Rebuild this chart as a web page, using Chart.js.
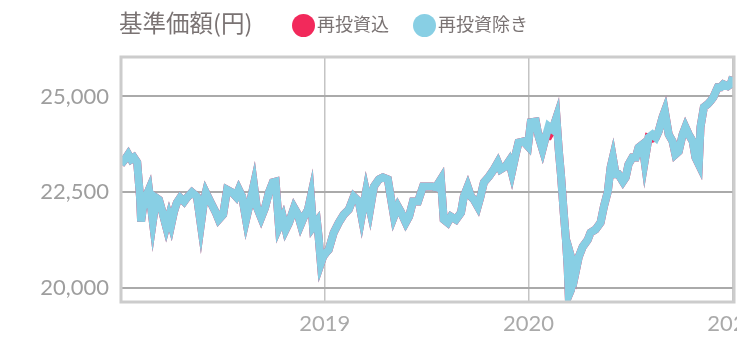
<!DOCTYPE html>
<html>
<head>
<meta charset="utf-8">
<script src="https://cdn.jsdelivr.net/npm/chart.js@4/dist/chart.umd.min.js"></script>
<style>
  body { margin: 0; background: #fff; width: 750px; height: 363px; overflow: hidden; }
  #header { position: absolute; left: 0; top: 0; width: 750px; height: 46px;
    font-family: "Noto Sans CJK JP", "Noto Sans", sans-serif; color: #7a7373; }
  #title { position: absolute; left: 119px; top: 7px; font-size: 23.5px; line-height: 30px; }
  .item { position: absolute; top: 10px; font-size: 18px; line-height: 26px; }
  .dot { display: inline-block; width: 23px; height: 23px; border-radius: 50%;
    vertical-align: -6px; margin-right: 2px; }
  #wrap { position: absolute; left: 0; top: 0; width: 737px; height: 363px; overflow: hidden; }
  #inner { position: relative; width: 750px; height: 363px; }
</style>
</head>
<body>
<div id="wrap"><div id="inner"><canvas id="chart"></canvas></div></div>
<div id="header">
  <span id="title">基準価額(円)</span>
  <span class="item" style="left:292px"><span class="dot" style="background:#f2295b"></span>再投資込</span>
  <span class="item" style="left:413px"><span class="dot" style="background:#88cfe4"></span>再投資除き</span>
</div>
<script>
// days since 2018-01-01
const dayOffsets = [
  0,7,13,18,23,29,34,36,41,50, 57,63,68,73,81,86,90,95,100,106,
  113,118,127,136,143,149,152,161,170,175, 183,190,199,206,211,217,224,231,238,243,
  251,258,265,272,277,283,290,295,301,310, 317,322,328,335,340,344,351,354,358,362,
  367,372,381,390,399,408,417,426,431,439, 446,453,462,469,478,483,489,496,501,510,
  516,523,532,541,550,558,564,573,578,585, 591,600,609,614,621,627,632,639,644,650,
  659,668,675,680,689,695,700,707,712,721, 729,734,743,748,755,761,766,773,780,784,
  788,793,797,800,802,806,809,814,820,827, 836,841,850,859,865,872,877,881,886,891,
  899,904,909,916,922,927,934,938,945,952, 958,963,970,974,981,988,993,999,1006,1011,
  1017,1024,1029,1035,1038,1044,1051,1056,1061,1069, 1074,1079,1087,1092,1096
];

const navExcl = [
  23230,23360,23490,23360,23410,23280,22390,21740,22260,22570,
  21740,22360,22310,22050,21600,21870,21660,22000,22230,22360,
  22260,22360,22500,22390,21660,22310,22500,22230,21970,21790,
  21920,22570,22500,22390,22570,22390,21790,22230,22700,22130,
  21840,22100,22500,22760,22780,21600,21840,21530,21710,22100,
  21920,21660,21870,22050,22390,21600,21740,21340,20650,20820,
  20920,21000,21450,21710,21920,22050,22390,22260,21870,22520,
  22050,22650,22840,22890,22840,22390,21870,22130,22000,21710,
  21870,22260,22260,22650,22650,22650,22630,22840,21790,21710,
  21870,21790,21970,22390,22650,22390,22310,22130,22390,22760,
  22910,23100,23280,23100,23180,23310,23020,23490,23800,23830,
  23700,24330,24350,23960,23620,23960,24220,24140,24450,23620,
  22970,21970,21260,20560,19820,19960,20660,20400,20820,21080,
  21260,21450,21530,21710,22130,22520,23150,23400,22970,22970,
  22780,22890,23230,23410,23410,23670,23750,23310,23930,24010,
  23930,24090,24460,24620,24010,23830,23490,23570,24010,24200,
  24010,23830,23410,23230,24200,24720,24800,24880,24980,25240,
  25240,25320,25270,25320,25510
];

const navIncl = [
  23230,23360,23490,23360,23410,23280,22390,21740,22260,22570,
  21740,22360,22310,22050,21600,21870,21660,22000,22230,22360,
  22260,22360,22500,22390,21660,22310,22500,22230,21970,21790,
  21920,22570,22500,22390,22570,22390,21790,22230,22700,22130,
  21840,22100,22500,22760,22780,21600,21840,21530,21710,22100,
  21920,21660,21870,22050,22390,21600,21740,21340,20650,20820,
  20920,21000,21450,21710,21920,22050,22390,22260,21870,22520,
  22050,22650,22840,22890,22840,22390,21870,22130,22000,21710,
  21870,22260,22260,22650,22650,22650,22630,22840,21790,21710,
  21870,21790,21970,22390,22650,22390,22310,22130,22390,22760,
  22910,23100,23280,23100,23180,23310,23020,23490,23800,23830,
  23700,24330,24350,23960,23620,23960,23960,24140,24450,23620,
  22970,21970,21260,20560,19820,19960,20660,20400,20820,21080,
  21260,21450,21530,21710,22130,22520,23150,23400,22970,22970,
  22780,22890,23230,23410,23410,23670,23750,23310,23930,23900,
  23930,24090,24460,24620,24010,23830,23490,23570,24010,24200,
  24010,23830,23410,23230,24200,24720,24800,24880,24980,25240,
  25240,25320,25270,25320,25510
];

const yearTicks = [365, 730, 1096];
const yearLabels = ['2019', '2020', '2021'];
const yTicks = [20000, 22500, 25000];

const toPoints = (vals) => dayOffsets.map((d, i) => ({ x: d, y: vals[i] }));

const frame = {
  id: 'frame',
  afterDraw(chart) {
    const { ctx, chartArea: a } = chart;
    ctx.save();
    ctx.strokeStyle = '#cccccc';
    ctx.lineWidth = 3;
    ctx.strokeRect(a.left, a.top, a.right - a.left, a.bottom - a.top);
    ctx.restore();
  }
};

new Chart(document.getElementById('chart'), {
  type: 'line',
  data: {
    datasets: [
      { label: '再投資込', data: toPoints(navIncl), borderColor: '#f2295b', order: 2 },
      { label: '再投資除き', data: toPoints(navExcl), borderColor: '#88cfe4', order: 1 }
    ]
  },
  options: {
    responsive: true,
    maintainAspectRatio: false,
    animation: false,
    layout: { padding: { top: 57, right: 16, bottom: 0, left: 0 } },
    elements: {
      line: { borderWidth: 8, tension: 0 },
      point: { radius: 0 }
    },
    plugins: { legend: { display: false }, tooltip: { enabled: false } },
    scales: {
      x: {
        type: 'linear',
        min: 0,
        max: 1098,
        afterBuildTicks: (s) => { s.ticks = yearTicks.map((v) => ({ value: v })); },
        afterFit: (s) => { s.height = 61; s.paddingRight = 0; s.paddingLeft = 0; },
        ticks: {
          callback: (v) => yearLabels[yearTicks.indexOf(v)],
          color: '#aaaaaa',
          font: { family: 'Lato', size: 22 },
          padding: 9,
          maxRotation: 0
        },
        grid: { color: '#c4c4c4', lineWidth: 1.5, drawTicks: false },
        border: { display: false }
      },
      y: {
        min: 19640,
        max: 26030,
        afterBuildTicks: (s) => { s.ticks = yTicks.map((v) => ({ value: v })); },
        afterFit: (s) => { s.width = 121; },
        ticks: {
          color: '#9e9e9e',
          font: { family: 'Lato', size: 22 },
          padding: 12
        },
        grid: { color: '#aaaaaa', lineWidth: 2, drawTicks: false },
        border: { display: false }
      }
    }
  },
  plugins: [frame]
});
</script>
</body>
</html>
